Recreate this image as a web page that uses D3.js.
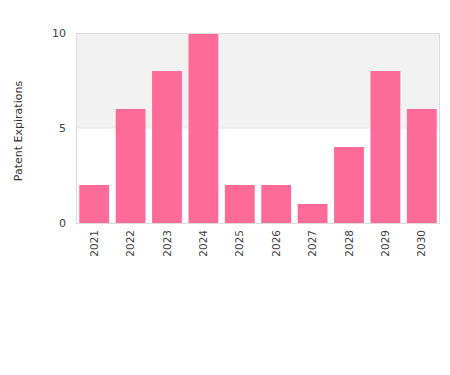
<!DOCTYPE html>
<meta charset="utf-8">
<html>
<head>
  <title>Patent Expirations</title>
  <script src="https://d3js.org/d3.v7.min.js"></script>
  <style>
    body { margin: 0; background: #fff; }
    text { font-family: "DejaVu Sans", Verdana, sans-serif; }
  </style>
</head>
<body>
<div id="chart"></div>
<script>
  var years = ["2021", "2022", "2023", "2024", "2025", "2026", "2027", "2028", "2029", "2030"],
      expirations = [2, 6, 8, 10, 2, 2, 1, 4, 8, 6],
      yTicks = [0, 5, 10];

  var margin = { top: 33, right: 10, bottom: 152, left: 76 },
      width = 450 - margin.left - margin.right,
      height = 375 - margin.top - margin.bottom;

  var svg = d3.select("#chart").append("svg")
      .attr("width", 450)
      .attr("height", 375);

  var g = svg.append("g")
      .attr("transform", "translate(" + margin.left + "," + margin.top + ")");

  var x = d3.scaleBand().domain(years).range([0, width]).paddingInner(0.18).paddingOuter(0.09);
  var y = d3.scaleLinear().domain([0, 10]).range([height, 0]);

  // alternating bands
  g.append("rect")
      .attr("x", 0).attr("y", y(10))
      .attr("width", width).attr("height", y(5) - y(10))
      .style("fill", "#f2f2f2");

  // grid line
  g.append("line")
      .attr("x1", 0).attr("x2", width)
      .attr("y1", y(5)).attr("y2", y(5))
      .style("stroke", "#e6e6e6");

  // bars
  g.selectAll(".bar")
      .data(expirations)
    .enter().append("rect")
      .attr("class", "bar")
      .attr("x", function (d, i) { return x(years[i]); })
      .attr("y", function (d) { return y(d); })
      .attr("width", x.bandwidth())
      .attr("height", function (d) { return height - y(d); })
      .style("fill", "#ff6b99");

  // plot border
  g.append("rect")
      .attr("x", 0.5).attr("y", 0.5)
      .attr("width", width - 1).attr("height", height)
      .style("fill", "none")
      .style("stroke", "#dcdcdc");

  // y labels
  g.selectAll(".ylab")
      .data(yTicks)
    .enter().append("text")
      .attr("x", -10)
      .attr("y", function (d) { return y(d); })
      .attr("dy", "0.35em")
      .style("text-anchor", "end")
      .style("font-size", "11px")
      .style("fill", "#444")
      .text(function (d) { return d; });

  // x labels
  g.selectAll(".xlab")
      .data(years)
    .enter().append("text")
      .attr("transform", function (d) {
        return "translate(" + (x(d) + x.bandwidth() / 2) + "," + (height + 7) + ") rotate(-90)";
      })
      .attr("dy", "0.35em")
      .style("text-anchor", "end")
      .style("font-size", "10.5px")
      .style("fill", "#444")
      .text(function (d) { return d; });

  // y title
  svg.append("text")
      .attr("transform", "translate(18," + (margin.top + height / 2 + 3) + ") rotate(-90)")
      .attr("dy", "0.35em")
      .style("text-anchor", "middle")
      .style("font-size", "11px")
      .style("fill", "#333")
      .text("Patent Expirations");
</script>
</body>
</html>
